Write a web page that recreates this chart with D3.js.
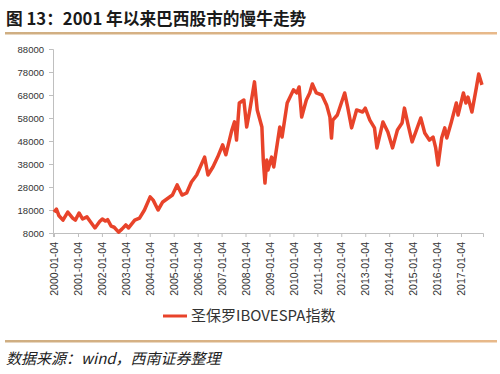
<!DOCTYPE html>
<html>
<head>
<meta charset="utf-8">
<script src="https://cdn.jsdelivr.net/npm/d3@7"></script>
<style>
  body { margin: 0; background: #fff; }
  svg { display: block; }
</style>
</head>
<body>
<div id="chart"></div>
<script>
// values (IBOVESPA index)
const dates = [
  "2000-01-04","2000-02-10","2000-03-20","2000-05-20","2000-08-01","2000-10-15","2000-11-25",
  "2001-01-20","2001-03-15","2001-05-20","2001-07-10","2001-09-20","2001-12-01",
  "2002-01-10","2002-02-25","2002-04-01","2002-05-25","2002-07-10","2002-09-15","2002-11-05",
  "2003-01-04","2003-02-15","2003-05-20","2003-08-01","2003-10-15",
  "2004-01-10","2004-02-25","2004-05-10","2004-07-20","2004-12-15",
  "2005-02-25","2005-05-10","2005-07-20","2005-10-01","2005-12-20",
  "2006-04-20","2006-06-10","2006-08-25","2006-11-05",
  "2007-01-20","2007-03-10","2007-06-10","2007-07-20","2007-08-20","2007-10-01","2007-12-10",
  "2008-01-22","2008-03-10","2008-05-20","2008-07-01","2008-09-10","2008-10-01","2008-10-27","2008-11-24","2008-12-12",
  "2009-02-05","2009-03-10","2009-06-10","2009-07-15","2009-10-01",
  "2010-01-04","2010-02-25","2010-04-01","2010-05-10","2010-07-20","2010-09-10","2010-10-20","2010-12-20",
  "2011-03-15","2011-05-25","2011-07-15","2011-08-08","2011-08-28","2011-11-05",
  "2012-02-25","2012-04-10","2012-06-10","2012-08-25","2012-11-25",
  "2013-01-04","2013-03-15","2013-05-25","2013-07-01","2013-10-01","2013-12-15",
  "2014-02-25","2014-05-10","2014-07-20","2014-08-25","2014-10-20","2014-12-20",
  "2015-02-25","2015-05-01","2015-07-01","2015-09-10","2015-11-05","2015-12-15",
  "2016-01-20","2016-03-15","2016-05-01","2016-06-01","2016-08-10","2016-10-25","2016-11-20",
  "2017-02-10","2017-03-20","2017-04-20","2017-06-20","2017-08-25","2017-10-01","2017-11-20"
];
const ibovespa = [
  17100,18400,15500,13600,17100,14500,13600,
  16700,14100,15000,13000,10200,13000,
  14100,13200,13800,11000,10500,8400,9700,
  11500,10200,13600,14500,18000,
  23700,22300,18000,21500,24500,
  28900,24500,25400,30200,33200,
  41000,33200,36700,41000,
  46300,42000,52800,56300,48400,64500,65800,
  54100,61500,73700,61500,54100,39700,29700,39700,35400,
  41000,36700,54100,49700,64500,
  70200,68900,71500,58400,65800,68900,72800,68900,
  68000,63700,58400,49300,57100,59300,
  68900,62800,53700,61500,60600,
  62300,57100,53700,45000,56300,51900,
  45000,52800,55800,62300,55000,47600,
  52800,58000,51500,48400,49700,45000,
  37600,49300,53700,49300,56300,64500,59300,
  68900,64500,67100,60600,71000,77100,72400
];
const yTicks = [8000,18000,28000,38000,48000,58000,68000,78000,88000];
const xTickLabels = ["2000-01-04","2001-01-04","2002-01-04","2003-01-04","2004-01-04","2005-01-04",
  "2006-01-04","2007-01-04","2008-01-04","2009-01-04","2010-01-04","2011-01-04","2012-01-04",
  "2013-01-04","2014-01-04","2015-01-04","2016-01-04","2017-01-04"];

const title = "图 13：2001 年以来巴西股市的慢牛走势";
const legendLabel = "圣保罗IBOVESPA指数";
const source = "数据来源：wind，西南证券整理";

const width = 500, height = 374;
const parse = d3.timeParse("%Y-%m-%d");
const data = dates.map((d, i) => ({ date: parse(d), value: ibovespa[i] }));

const svg = d3.select("#chart").append("svg")
  .attr("width", width)
  .attr("height", height);

const cjk = "'Noto Sans CJK SC', 'Noto Sans', sans-serif";
const latin = "'Liberation Sans', Arial, sans-serif";

// title and rules
svg.append("text")
  .attr("x", 6).attr("y", 25)
  .attr("font-family", cjk)
  .attr("font-size", 16.7)
  .attr("font-weight", "bold")
  .attr("fill", "#1a1a1a")
  .text(title);

const grad = svg.append("defs").append("linearGradient").attr("id", "rule");
grad.append("stop").attr("offset", "0%").attr("stop-color", "#cfae82");
grad.append("stop").attr("offset", "100%").attr("stop-color", "#e8b98a");

svg.append("rect").attr("x", 5).attr("y", 32).attr("width", 492).attr("height", 2.5).attr("fill", "url(#rule)");
svg.append("rect").attr("x", 5).attr("y", 340).attr("width", 492).attr("height", 2.5).attr("fill", "url(#rule)");

// scales: 2000-01-04 sits at x=54, 2017-01-04 at x=461, axis runs 53..483
const x = d3.scaleTime()
  .domain([parse("2000-01-04"), parse("2017-01-04")])
  .range([54, 461]);
x.domain([x.invert(53), x.invert(483)]).range([53, 483]);

const y = d3.scaleLinear()
  .domain([8000, 88000])
  .range([233, 49]);

// y axis
const yAxis = svg.append("g")
  .attr("transform", "translate(53,0)")
  .call(d3.axisLeft(y).tickValues(yTicks).tickSize(4).tickPadding(5).tickFormat(d3.format("d")));
yAxis.select(".domain").attr("stroke", "#bfbfbf");
yAxis.selectAll(".tick line").attr("stroke", "#bfbfbf");
yAxis.selectAll("text")
  .attr("font-family", latin)
  .attr("font-size", 9.5)
  .attr("fill", "#333");

// x axis
const xAxis = svg.append("g")
  .attr("transform", "translate(0,233)")
  .call(d3.axisBottom(x)
    .tickValues(xTickLabels.map(parse))
    .tickSize(4)
    .tickFormat(d3.timeFormat("%Y-%m-%d")));
xAxis.select(".domain").attr("stroke", "#bfbfbf");
xAxis.selectAll(".tick line").attr("stroke", "#bfbfbf");
xAxis.selectAll("text")
  .attr("font-family", latin)
  .attr("font-size", 10.5)
  .attr("fill", "#333")
  .attr("text-anchor", "end")
  .attr("dy", "0.35em")
  .attr("transform", "translate(0,9) rotate(-90)")
  .attr("x", 0)
  .attr("y", 0);

// line
const line = d3.line()
  .x(d => x(d.date))
  .y(d => y(d.value));

svg.append("path")
  .datum(data)
  .attr("fill", "none")
  .attr("stroke", "#e8432a")
  .attr("stroke-width", 3.5)
  .attr("stroke-linejoin", "round")
  .attr("d", line);

// legend
svg.append("line")
  .attr("x1", 163).attr("x2", 187)
  .attr("y1", 316).attr("y2", 316)
  .attr("stroke", "#e8432a")
  .attr("stroke-width", 3);
svg.append("text")
  .attr("x", 191).attr("y", 321)
  .attr("font-family", cjk)
  .attr("font-size", 15)
  .attr("fill", "#333")
  .text(legendLabel);

// source note
svg.append("text")
  .attr("x", 6).attr("y", 364)
  .attr("font-family", cjk)
  .attr("font-size", 15)
  .attr("font-style", "italic")
  .attr("fill", "#222")
  .text(source);
</script>
</body>
</html>
